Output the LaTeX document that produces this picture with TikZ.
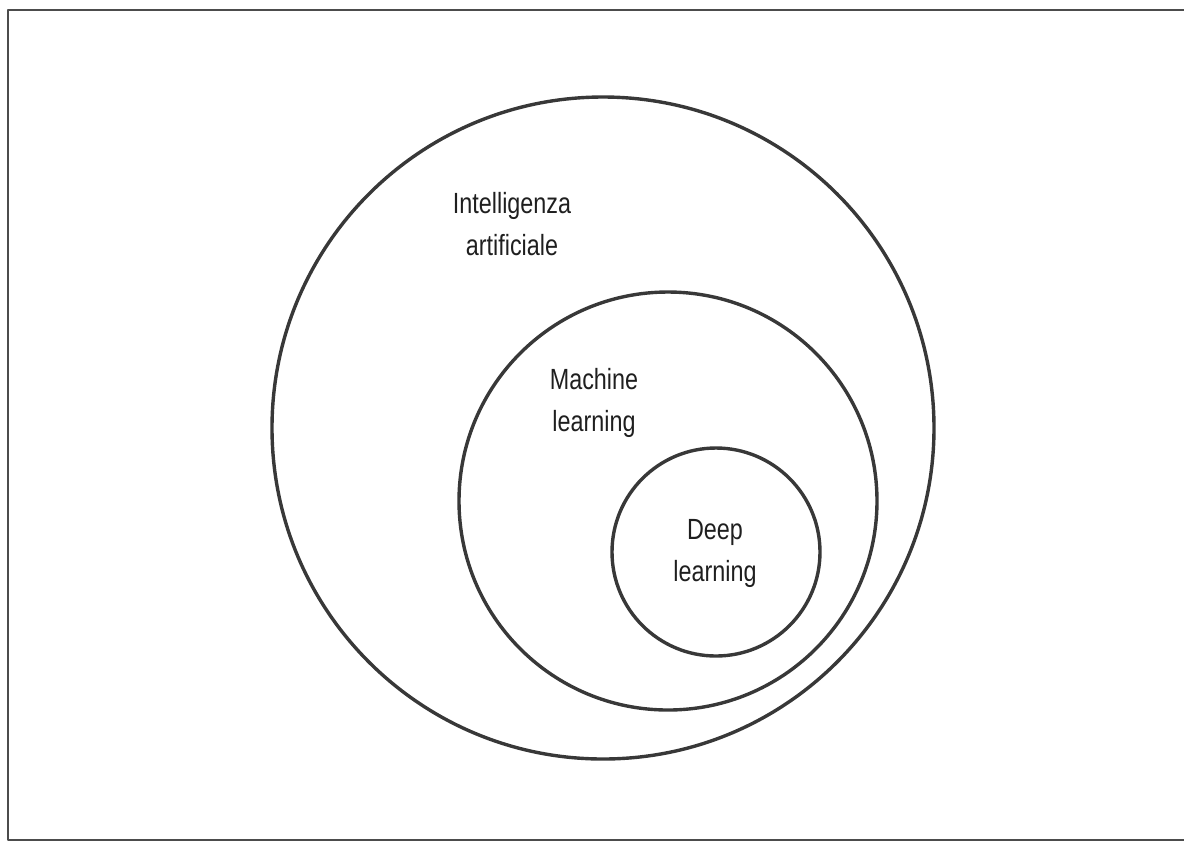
\documentclass[tikz,border=0pt]{standalone}
\usepackage{fontspec}
\setmainfont{Liberation Sans}[FakeStretch=0.8]

\begin{document}
\begin{tikzpicture}[line cap=round,line join=round,x=0.5pt,y=-0.5pt,
  ring/.style={circle,draw=black!78,line width=1.7pt,inner sep=0pt},
  tag/.style={align=center,text=black!88,inner sep=0pt,font=\fontsize{14.6}{21}\selectfont}]
\useasboundingbox (0,0) rectangle (1184,843);
\draw[black!70,line width=1pt] (1184,10)-- (8,10)-- (8,840)-- (1184,840);
\node[ring,minimum size=331pt] (ia) at (603,428) {};
\node[ring,minimum size=209pt] (ml) at (668,501) {};
\node[ring,minimum size=104pt] (dl) at (716,552) {};
\node[tag] (iatext) at (512,224) {Intelligenza\\artificiale};
\node[tag] (mltext) at (594,403) {Machine\\learning};
\node[tag] (dltext) at (715,553) {Deep\\learning};
\end{tikzpicture}
\end{document}
